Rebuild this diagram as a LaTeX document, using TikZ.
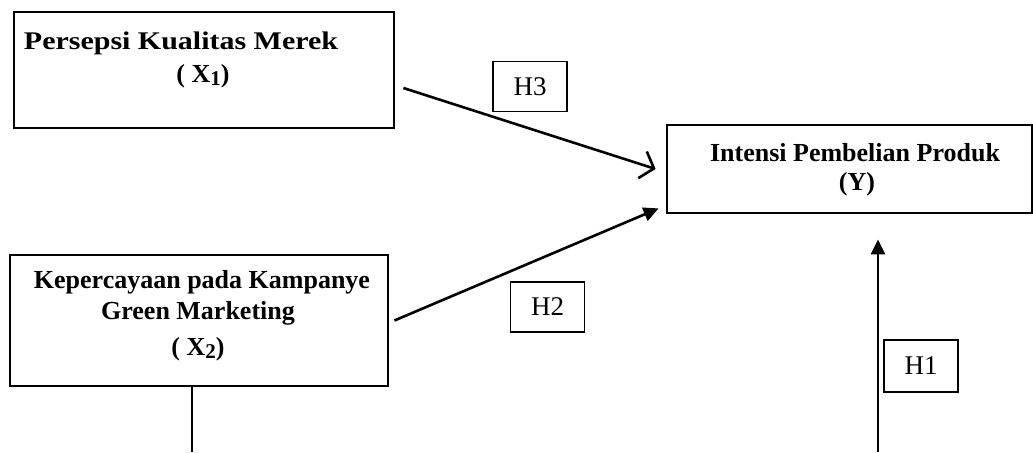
\documentclass[tikz,border=0pt]{standalone}
\usepackage{fontspec}
\setmainfont{Liberation Serif}
\newfontfamily\wideboxfont[FakeStretch=1.18]{Liberation Serif}
\usetikzlibrary{arrows.meta}
\newcommand{\subidx}[1]{\raisebox{-0.12em}{\fontsize{10.5}{11}\selectfont #1}}

\begin{document}
\begin{tikzpicture}[x=0.5pt,y=-0.5pt,>={Triangle[length=7.5pt,width=7pt]},
    varbox/.style={draw,line width=1.4pt,inner sep=0pt},
    vartext/.style={font=\fontsize{13}{15}\selectfont\bfseries,inner sep=0pt},
    hypbox/.style={draw,line width=0.9pt,inner sep=0pt,minimum width=37pt,minimum height=25pt,font=\fontsize{13.5}{15}\selectfont},
    path/.style={line width=1.3pt}]
	  \useasboundingbox (0,0) rectangle (1033,452);
	  \node[varbox,minimum width=190pt,minimum height=58pt] (x1) at (204,70) {};
	  \node[varbox,minimum width=182.5pt,minimum height=44pt] (y) at (849.5,169) {};
	  \node[varbox,minimum width=189pt,minimum height=65.5pt] (x2) at (199,320.5) {};
	  \node[vartext,font=\wideboxfont\fontsize{12.7}{15}\selectfont\bfseries] (x1a) at (181,43) {Persepsi Kualitas Merek};
	  \node[vartext] (x1b) at (203,76) {( X\subidx{1})};
	  \node[vartext] (ya) at (855,153) {Intensi Pembelian Produk};
	  \node[vartext] (yb) at (857,184) {(Y)};
	  \node[vartext] (x2a) at (202,282) {Kepercayaan pada Kampanye};
	  \node[vartext] (x2b) at (198,313) {Green Marketing};
	  \node[vartext] (x2c) at (198,349) {( X\subidx{2})};
	  \node[hypbox] (h3) at (530,86.5) {H3};
	  \node[hypbox] (h2) at (547.5,307) {H2};
	  \node[hypbox,minimum height=26pt] (h1) at (921,366) {H1};
	  \coordinate (h1foot) at (878,452);
	  \coordinate (x2foot) at (192,452);
	  \draw[path,-{Straight Barb[length=6pt,width=14pt]}] ([shift={(8,18)}]x1.east) -- ([shift={(-10,0)}]y.west);
	  \draw[path,->] ([shift={(5,0)}]x2.east) -- ([shift={(-7,-6)}]y.south west);
	  \draw[path,->] (h1foot) -- ([shift={(28.5,25)}]y.south);
	  \draw[line width=1pt] ([shift={(-7,0)}]x2.south) -- (x2foot);
	\end{tikzpicture}
\end{document}
